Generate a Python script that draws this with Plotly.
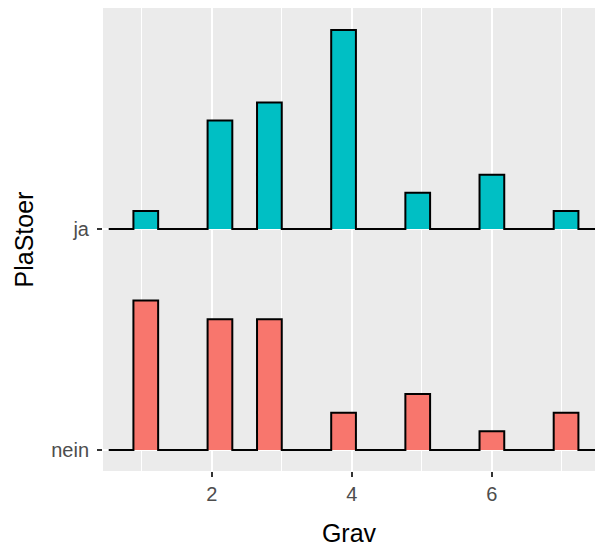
import math
import plotly.graph_objects as go

# ---- data ----
grav_values = [1, 2, 3, 4, 5, 6, 7]
groups = ["nein", "ja"]
counts_nein = [8, 7, 7, 2, 3, 1, 2]
counts_ja = [1, 6, 7, 11, 2, 3, 1]
fill_colors = {"nein": "#F8766D", "ja": "#00BFC4"}

# binning (stat_binline-like)
bin_width = 6 / 17
bin_origin = 3 - 7 * bin_width
n_bins = 20
ridge_scale = 0.9


def bin_heights(values, counts):
    n = sum(counts)
    dens = [0.0] * n_bins
    for v, c in zip(values, counts):
        idx = math.ceil((v - bin_origin) / bin_width - 1e-9) - 1
        dens[idx] += c / (n * bin_width)
    return dens


dens = {"nein": bin_heights(grav_values, counts_nein),
        "ja": bin_heights(grav_values, counts_ja)}
max_d = max(max(d) for d in dens.values())

fig = go.Figure()
for gi, g in enumerate(groups):
    base = gi + 1
    edges = [bin_origin + k * bin_width for k in range(n_bins + 1)]
    xs = [edges[0]]
    ys = [base]
    for i, d in enumerate(dens[g]):
        h = base + d / max_d * ridge_scale
        xs += [edges[i], edges[i + 1]]
        ys += [h, h]
    xs.append(edges[-1])
    ys.append(base)
    fig.add_trace(go.Scatter(x=xs, y=ys, mode="lines", fill="toself",
                             fillcolor=fill_colors[g], line=dict(width=0),
                             hoverinfo="skip", showlegend=False))
    fig.add_trace(go.Scatter(x=xs, y=ys, mode="lines",
                             line=dict(color="black", width=2),
                             hoverinfo="skip", showlegend=False))

fig.update_layout(
    width=595, height=547,
    margin=dict(l=103, r=0, t=8, b=76),
    paper_bgcolor="white", plot_bgcolor="#EBEBEB",
    font=dict(family="Liberation Sans, Arial", color="#4D4D4D"),
    showlegend=False,
)
fig.update_xaxes(
    range=[0.448, 7.472], tick0=0, dtick=2,
    showgrid=True, gridcolor="white", gridwidth=2.2,
    minor=dict(tick0=1, dtick=2, showgrid=True, gridcolor="white", gridwidth=1.1),
    ticks="outside", ticklen=5, tickwidth=2, tickcolor="#333333",
    tickfont=dict(size=20, color="#4D4D4D"),
    title=dict(text="Grav", font=dict(size=25, color="black"), standoff=21),
    zeroline=False, showline=False,
)
fig.update_yaxes(
    range=[0.905, 3.0], tickvals=[1, 2], ticktext=groups,
    showgrid=True, gridcolor="white", gridwidth=2.2,
    ticks="outside", ticklen=5, tickwidth=2, tickcolor="#333333",
    tickfont=dict(size=20, color="#4D4D4D"), ticklabelstandoff=4,
    title=dict(text="PlaStoer", font=dict(size=25, color="black"), standoff=10),
    zeroline=False, showline=False,
)

fig.write_html("out.html", config={"displayModeBar": False},
               post_script="document.body.style.margin='0';")
